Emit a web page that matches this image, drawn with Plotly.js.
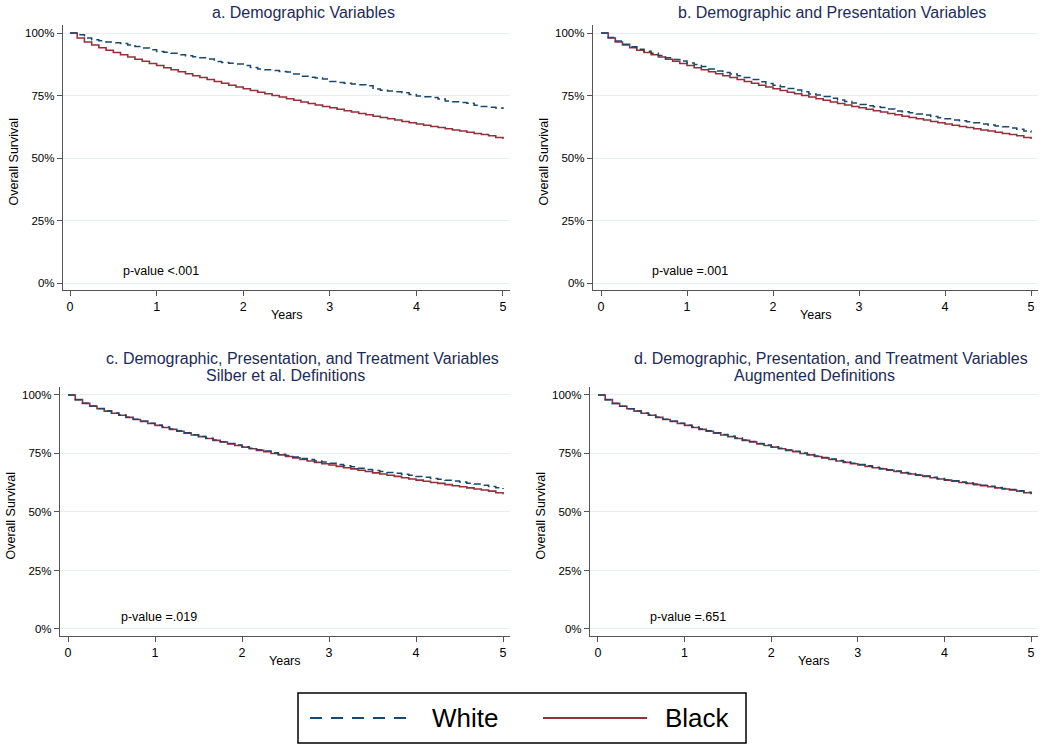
<!DOCTYPE html>
<html>
<head>
<meta charset="utf-8">
<script src="https://cdn.plot.ly/plotly-3.0.1.min.js"></script>
<style>html,body{margin:0;padding:0;background:#fff;}#chart{width:1050px;height:753px;}</style>
</head>
<body>
<div id="chart"></div>
<script>
// Time points (months since diagnosis), step function sampled monthly
const months = [0,1,2,3,4,5,6,7,8,9,10,11,12,13,14,15,16,17,18,19,20,21,22,23,24,25,26,27,28,29,30,
  31,32,33,34,35,36,37,38,39,40,41,42,43,44,45,46,47,48,49,50,51,52,53,54,55,56,57,58,59,60];

// Black patients (reference curve, same in all panels) - survival %
const blackSurv = [100,98.0,96.4,95.2,94.1,93.1,92.2,91.3,90.4,89.5,88.7,87.8,87.0,86.1,85.3,84.5,83.7,82.9,82.2,81.4,80.6,
  79.9,79.1,78.4,77.7,77.0,76.3,75.7,75.0,74.4,73.7,73.1,72.4,71.8,71.2,70.6,70.1,69.5,68.9,68.4,67.8,
  67.3,66.7,66.2,65.7,65.2,64.6,64.1,63.6,63.1,62.6,62.2,61.7,61.2,60.8,60.3,59.8,59.4,58.9,58.2,57.6];

// White patients, panel a: demographic variables
const whiteA = [100,99.3,98.0,97.3,96.9,96.4,96.1,95.8,95.2,94.6,94.0,93.3,92.6,92.3,91.9,91.3,90.9,90.5,90.1,89.6,88.6,
  88.2,87.9,87.6,87.0,86.2,85.6,85.3,85.0,84.6,84.4,83.6,82.7,82.3,82.0,81.6,80.6,80.2,79.9,79.6,79.3,
  78.9,77.6,77.1,76.8,76.5,76.1,75.4,74.8,74.5,74.2,73.6,72.8,72.5,72.2,71.9,71.1,70.6,70.3,70.0,69.6];

// White patients, panel b: demographic and presentation variables
const whiteB = [100,98.2,96.8,95.5,94.5,93.5,92.7,91.9,91.0,90.1,89.4,88.8,88.0,87.4,86.6,85.6,84.8,84.2,83.6,82.9,82.2,
  81.4,80.5,79.8,79.1,78.5,77.8,77.2,76.5,75.6,75.2,74.6,73.9,73.2,72.6,72.0,71.4,70.9,70.5,70.2,69.6,
  68.8,68.5,68.1,67.6,67.2,66.6,66.1,65.7,65.2,64.9,64.5,64.1,63.6,63.2,62.8,62.5,62.0,61.5,60.8,60.2];

// White patients, panel c: + treatment variables, Silber et al. definitions
const whiteC = [100,98.0,96.5,95.3,94.2,93.2,92.3,91.4,90.5,89.6,88.8,87.9,87.1,86.3,85.5,84.7,83.8,83.0,82.3,81.5,80.7,
  80.0,79.3,78.6,77.9,77.2,76.6,76.0,75.3,74.7,74.1,73.5,72.9,72.4,71.8,71.3,70.8,70.3,69.8,69.3,68.7,
  68.2,67.7,67.3,66.9,66.5,66.1,65.7,65.2,64.8,64.3,64.0,63.6,63.2,62.8,62.3,61.9,61.4,60.9,60.4,59.8];

// White patients, panel d: + treatment variables, augmented definitions
const whiteD = [100,98.0,96.4,95.2,94.1,93.1,92.3,91.4,90.5,89.6,88.8,87.9,87.1,86.3,85.5,84.7,83.9,83.1,82.4,81.6,80.8,
  80.1,79.3,78.6,77.9,77.2,76.5,75.9,75.2,74.6,73.9,73.3,72.6,72.0,71.4,70.8,70.3,69.7,69.1,68.6,68.0,
  67.5,66.9,66.4,65.9,65.4,64.8,64.3,63.8,63.3,62.8,62.4,61.9,61.4,61.0,60.5,60.0,59.6,59.1,58.4,57.8];

const panelTitles = [
  ["a. Demographic Variables"],
  ["b. Demographic and Presentation Variables"],
  ["c. Demographic, Presentation, and Treatment Variables", "Silber et al. Definitions"],
  ["d. Demographic, Presentation, and Treatment Variables", "Augmented Definitions"]
];
const pValues = ["p-value <.001", "p-value =.001", "p-value =.019", "p-value =.651"];
const whiteSeries = [whiteA, whiteB, whiteC, whiteD];
const yTicks = [0, 25, 50, 75, 100];
const yTickLabels = ["0%", "25%", "50%", "75%", "100%"];
const xTicks = [0, 1, 2, 3, 4, 5];
const groupNames = ["White", "Black"];

const years = months.map(m => m / 12);

const W = 1050, H = 753;
const FONT = "Arial, 'Liberation Sans', sans-serif";
const NAVY = "#1a476f", MAROON = "#94303a", TITLE = "#1d2b58";
const px = x => x / W, py = y => 1 - y / H;

// panel geometry in pixels: [left, right, top, bottom], and axis ranges
const panels = [
  {l: 63, r: 510, t: 25, b: 290, xr: [-0.081, 5.081], yr: [-2.8, 103.2],
   titleX: [303], titleY: [12.7], pX: 121, pY: 271, yearsY: 315},
  {l: 593, r: 1038, t: 25, b: 290, xr: [-0.093, 5.081], yr: [-2.8, 103.2],
   titleX: [832], titleY: [12.7], pX: 650, pY: 271, yearsY: 315},
  {l: 60, r: 510, t: 387, b: 636, xr: [-0.092, 5.08], yr: [-3.0, 103.4],
   titleX: [302, 285], titleY: [358, 375], pX: 119, pY: 617, yearsY: 661},
  {l: 590, r: 1038, t: 387, b: 636, xr: [-0.092, 5.08], yr: [-3.0, 103.4],
   titleX: [831, 814], titleY: [358, 375], pX: 648, pY: 617, yearsY: 661}
];

const data = [];
const layout = {
  width: W, height: H,
  margin: {l: 0, r: 0, t: 0, b: 0},
  paper_bgcolor: "#fff", plot_bgcolor: "#fff",
  showlegend: false,
  font: {family: FONT, color: "#000"},
  annotations: [], shapes: []
};

panels.forEach((p, i) => {
  const sfx = i === 0 ? "" : String(i + 1);
  const xa = "x" + sfx, ya = "y" + sfx;
  data.push({
    x: years, y: blackSurv, xaxis: xa, yaxis: ya, type: "scatter", mode: "lines",
    name: groupNames[1], line: {shape: "hv", color: MAROON, width: 1.6}, hoverinfo: "x+y+name"
  });
  data.push({
    x: years, y: whiteSeries[i], xaxis: xa, yaxis: ya, type: "scatter", mode: "lines",
    name: groupNames[0], line: {shape: "hv", color: NAVY, width: 1.5, dash: "7px,4px"}, hoverinfo: "x+y+name"
  });
  layout["xaxis" + sfx] = {
    domain: [px(p.l), px(p.r)], range: p.xr, anchor: ya,
    tickmode: "array", tickvals: xTicks, ticks: "outside", ticklen: 5, tickcolor: "#555", tickwidth: 1,
    showline: true, linecolor: "#555", linewidth: 1.2, showgrid: false, zeroline: false,
    tickfont: {size: 12.5, family: FONT, color: "#000"}, fixedrange: true
  };
  layout["yaxis" + sfx] = {
    domain: [py(p.b), py(p.t)], range: p.yr, anchor: xa,
    tickmode: "array", tickvals: yTicks, ticktext: yTickLabels, ticks: "outside", ticklen: 5, tickcolor: "#555", tickwidth: 1,
    showline: true, linecolor: "#555", linewidth: 1.2, showgrid: true, gridcolor: "#e6f0f1", gridwidth: 1,
    zeroline: false, tickfont: {size: 11.5, family: FONT, color: "#000"}, fixedrange: true
  };
  // panel titles
  panelTitles[i].forEach((t, j) => {
    layout.annotations.push({
      text: t, xref: "paper", yref: "paper", x: px(p.titleX[j]), y: py(p.titleY[j]),
      xanchor: "center", yanchor: "middle", showarrow: false,
      font: {size: 16, family: FONT, color: TITLE}
    });
  });
  // axis titles
  layout.annotations.push({
    text: "Years", xref: "paper", yref: "paper", x: px((p.l + p.r) / 2), y: py(p.yearsY),
    xanchor: "center", yanchor: "middle", showarrow: false, font: {size: 12.5, family: FONT, color: "#000"}
  });
  layout.annotations.push({
    text: "Overall Survival", xref: "paper", yref: "paper", x: px(p.l - 50), y: py((p.t + p.b) / 2 + 4),
    xanchor: "center", yanchor: "middle", textangle: -90, showarrow: false,
    font: {size: 12.5, family: FONT, color: "#000"}
  });
  // p-value
  layout.annotations.push({
    text: pValues[i], xref: "paper", yref: "paper", x: px(p.pX), y: py(p.pY),
    xanchor: "left", yanchor: "middle", showarrow: false, font: {size: 12.5, family: FONT, color: "#000"}
  });
});

// Legend box (drawn) at bottom
layout.shapes.push({type: "rect", xref: "paper", yref: "paper",
  x0: px(298), x1: px(746), y0: py(743), y1: py(693), line: {color: "#000", width: 1.5}, fillcolor: "rgba(0,0,0,0)"});
layout.shapes.push({type: "line", xref: "paper", yref: "paper",
  x0: px(310), x1: px(414), y0: py(718), y1: py(718), line: {color: NAVY, width: 2, dash: "12px,9px"}});
layout.shapes.push({type: "line", xref: "paper", yref: "paper",
  x0: px(543), x1: px(647), y0: py(718), y1: py(718), line: {color: MAROON, width: 2}});
layout.annotations.push({text: groupNames[0], xref: "paper", yref: "paper", x: px(430), y: py(718),
  xanchor: "left", yanchor: "middle", showarrow: false, font: {size: 26, family: FONT, color: "#000"}});
layout.annotations.push({text: groupNames[1], xref: "paper", yref: "paper", x: px(663), y: py(718),
  xanchor: "left", yanchor: "middle", showarrow: false, font: {size: 26, family: FONT, color: "#000"}});

Plotly.newPlot("chart", data, layout, {displayModeBar: false, staticPlot: true});
</script>
</body>
</html>
